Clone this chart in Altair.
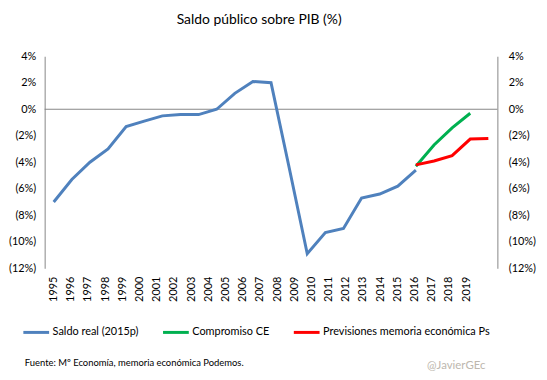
import altair as alt
import pandas as pd

years = list(range(1995, 2020))
real_years = list(range(1995, 2016))
saldo_real = [-7.0, -5.3, -4.0, -3.0, -1.3, -0.9, -0.5, -0.4, -0.4, 0.0,
              1.2, 2.1, 2.0, -4.4, -10.9, -9.3, -9.0, -6.7, -6.4, -5.8, -4.6]
comp_years = [2015, 2016, 2017, 2018]
compromiso = [-4.3, -2.7, -1.4, -0.3]
prev_years = [2015, 2016, 2017, 2018, 2019]
previsiones = [-4.2, -3.9, -3.5, -2.25, -2.2]

series_names = ["Saldo real (2015p)", "Compromiso CE", "Previsiones memoria económica Ps"]
series_colors = ["#4F81BD", "#00B050", "#FF0000"]
y_ticks = [-12, -10, -8, -6, -4, -2, 0, 2, 4]

rows = []
for name, ys, vs in zip(series_names, [real_years, comp_years, prev_years],
                        [saldo_real, compromiso, previsiones]):
    for yr, v in zip(ys, vs):
        rows.append({"series": name, "year": yr, "value": v})
df = pd.DataFrame(rows)

FONT = "Lato"
label_expr = "datum.value < 0 ? '(' + format(-datum.value, 'd') + '%)' : format(datum.value, 'd') + '%'"
y_scale = alt.Scale(domain=[-12, 4], nice=False, zero=False)

lines = alt.Chart(df).mark_line(strokeWidth=3).encode(
    x=alt.X("year:Q", scale=alt.Scale(domain=[1994.5, 2019.5], nice=False, zero=False), axis=None),
    y=alt.Y("value:Q", scale=y_scale,
            axis=alt.Axis(orient="left", values=y_ticks, labelExpr=label_expr, grid=False,
                          ticks=False, domainColor="#868686", labelPadding=9, title=None,
                          labelFont=FONT, labelFontSize=11, labelColor="#000")),
    color=alt.Color("series:N", sort=series_names,
                    scale=alt.Scale(domain=series_names, range=series_colors),
                    legend=alt.Legend(title=None, orient="none", direction="horizontal",
                                      legendX=-23, legendY=264, symbolType="stroke",
                                      symbolStrokeWidth=3, symbolSize=676, labelOffset=2,
                                      columnPadding=18, labelFont=FONT, labelFontSize=11,
                                      labelColor="#000", labelLimit=400)),
    detail="series:N",
)

zero_df = pd.DataFrame({"v": [0]})
zero_rule = alt.Chart(zero_df).mark_rule(color="#868686", strokeWidth=1).encode(
    y=alt.Y("v:Q", scale=y_scale,
            axis=alt.Axis(orient="right", values=y_ticks, labelExpr=label_expr, grid=False,
                          ticks=False, domainColor="#868686", labelPadding=11, title=None,
                          labelFont=FONT, labelFontSize=11, labelColor="#000"))
)

years_df = pd.DataFrame({"year": years})
x_labels = alt.Chart(years_df).mark_point(opacity=0).encode(
    x=alt.X("year:Q", scale=alt.Scale(domain=[1994.48, 2020.82], nice=False, zero=False),
            axis=alt.Axis(values=years, format="d", labelAngle=270, ticks=False, domain=False,
                          grid=False, labelPadding=8, title=None, labelFont=FONT,
                          labelFontSize=11, labelColor="#000"))
)

note_df = pd.DataFrame({"t": ["Fuente: Mº Economía, memoria económica Podemos."]})
note = alt.Chart(note_df).mark_text(align="left", baseline="middle", font=FONT, fontSize=9.5,
                                    color="#000").encode(
    text="t:N", x=alt.value(-20), y=alt.value(310))
wm_df = pd.DataFrame({"t": ["@JavierGEc"]})
wm = alt.Chart(wm_df).mark_text(align="left", baseline="middle", font=FONT, fontSize=11.5,
                                color="#BDB7AE").encode(
    text="t:N", x=alt.value(386), y=alt.value(313))

chart = alt.layer(zero_rule, lines, x_labels, note, wm).resolve_scale(
    x="independent", y="independent"
).properties(
    width=457, height=214,
    title=alt.TitleParams("Saldo público sobre PIB (%)", font=FONT, fontSize=14,
                          fontWeight="normal", color="#000", anchor="middle", offset=24, dx=-12),
    autosize=alt.AutoSizeParams(type="none"),
    padding={"left": 37, "top": 47, "right": 42, "bottom": 103},
).configure_view(stroke=None)

chart.save("out.html", embed_options={"renderer": "svg", "actions": False})
